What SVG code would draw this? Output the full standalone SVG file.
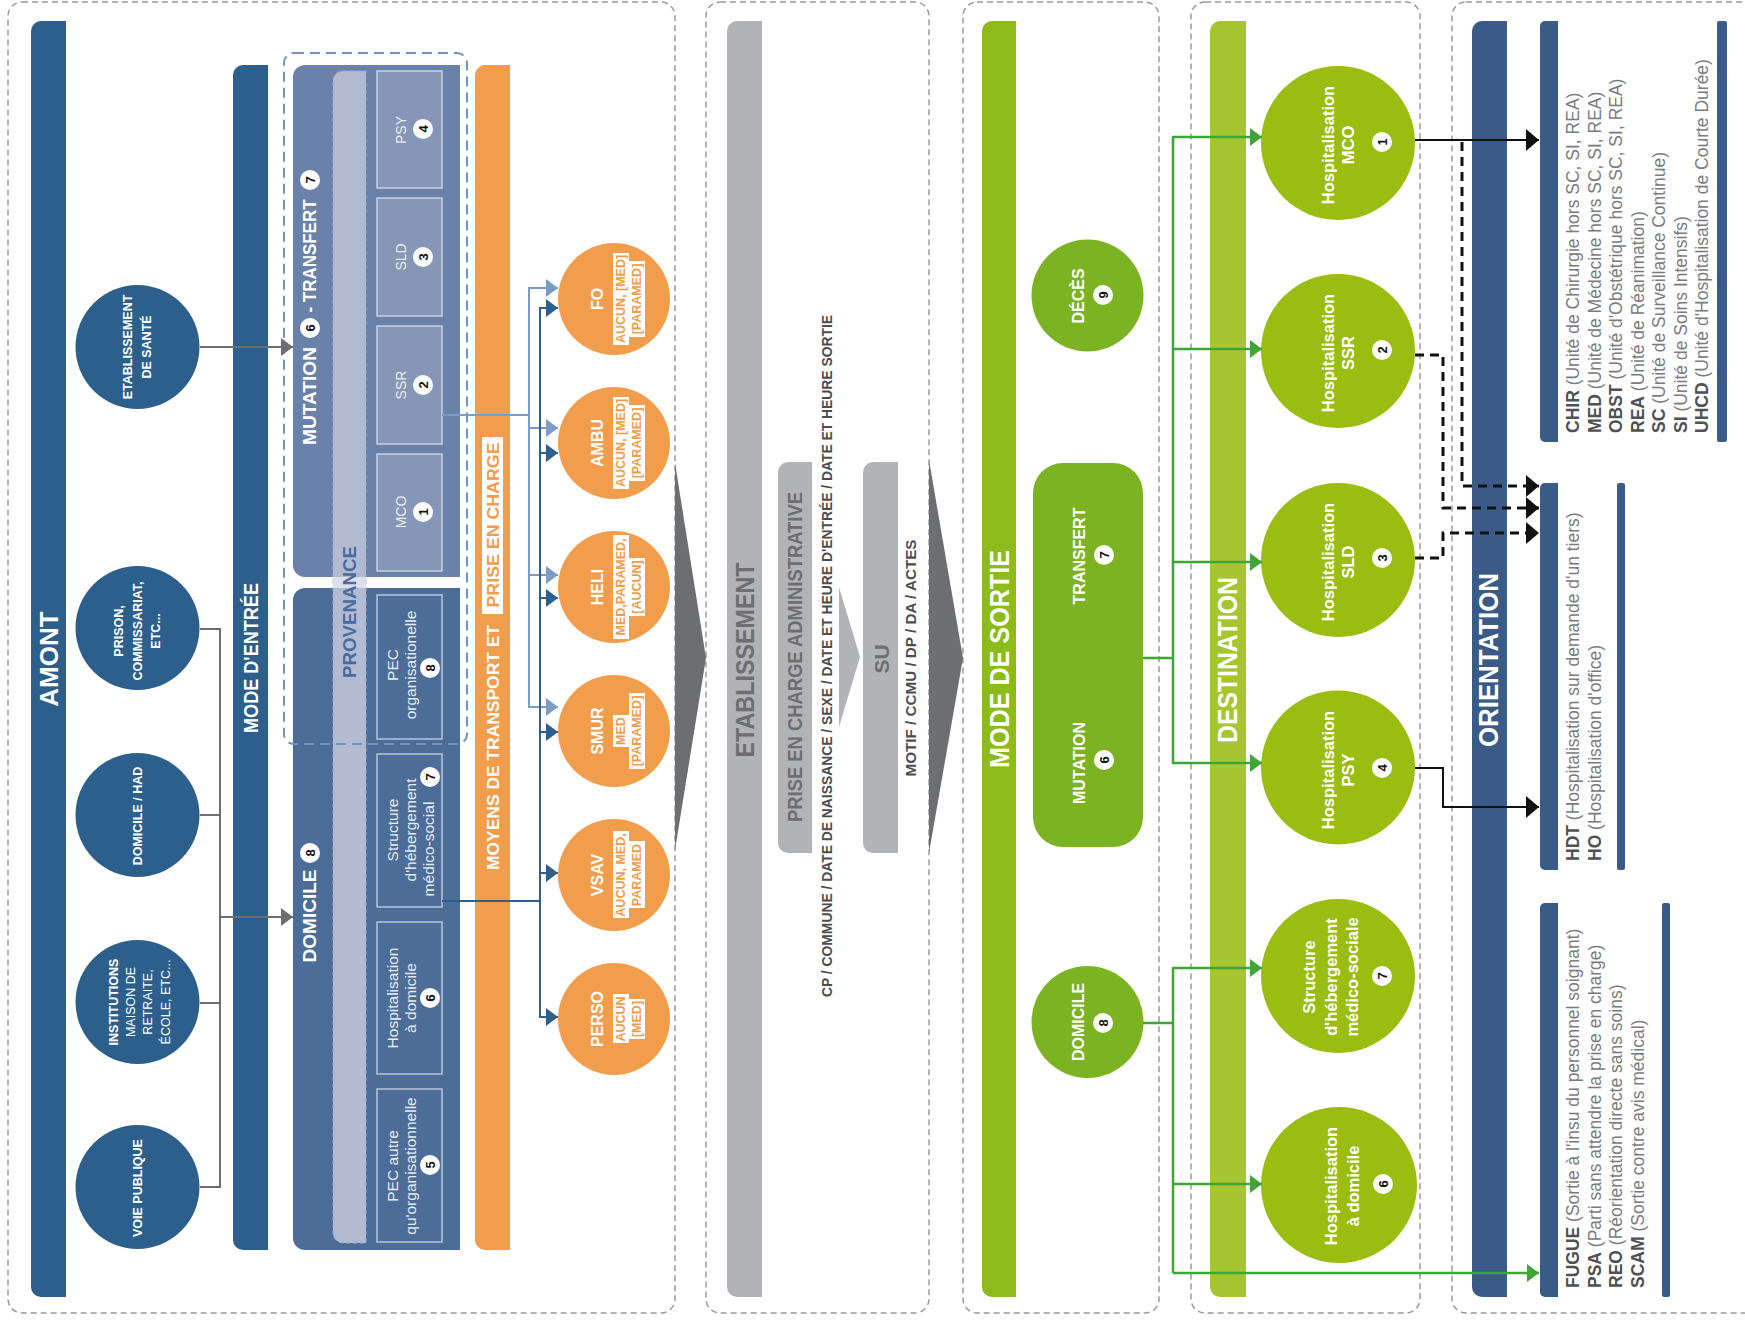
<svg xmlns="http://www.w3.org/2000/svg" width="1745" height="1322" viewBox="0 0 1745 1322">
<defs>
<style>
text{font-family:'Liberation Sans',Arial,sans-serif}
tspan{dominant-baseline:inherit}
.c{text-anchor:middle;dominant-baseline:central}
.s{text-anchor:start;dominant-baseline:central}
.b{font-weight:bold}
.w{fill:#fff}
.panel{fill:none;stroke:#9a9a9a;stroke-width:1.5;stroke-dasharray:6 4}
.bdg{fill:#fff}
.num{font-weight:bold;font-size:13px;fill:#111;text-anchor:middle;dominant-baseline:central}
.amc{fill:#2C5F8C}
.amt{font-size:12.5px;fill:#fff}
.sbm{fill:#8696B6;stroke:#C9D0E0;stroke-width:1.5}
.sbd{fill:#4B6D98;stroke:#B9C4D8;stroke-width:1.5}
.sbt{font-size:14px;fill:#E9ECF3}
.sdt{font-size:15.5px;fill:#E9ECF3}
.orc{fill:#F29D4C}
.ort{font-size:16px;font-weight:bold;fill:#fff}
.hl{fill:#fff}
.hlt{font-size:12.5px;font-weight:bold;fill:#F29D4C}
.gt{fill:#6D6E71}
.gd{fill:#4D4D4F}
.grn{fill:#7CB322}
.dst{fill:#9BBD11}
.dtt{font-size:16.5px;font-weight:bold;fill:#fff}
.lgb{font-weight:bold;fill:#505153}
.lgr{fill:#7A7B7E}
.lg{font-size:17.5px}
.cg{fill:none;stroke:#6D6E71;stroke-width:2}
.cbl{fill:none;stroke:#7A9CC6;stroke-width:2}
.cbd{fill:none;stroke:#2C5F8C;stroke-width:2}
.cgr{fill:none;stroke:#3FA535;stroke-width:2.5}
.ck{fill:none;stroke:#111;stroke-width:2}
.ckd{fill:none;stroke:#111;stroke-width:3;stroke-dasharray:9 6}
</style>
<marker id="ag" markerUnits="userSpaceOnUse" markerWidth="12" markerHeight="18" refX="12" refY="9" orient="auto"><path d="M0,0 L12,9 L0,18 z" fill="#6D6E71"/></marker>
<marker id="abl" markerUnits="userSpaceOnUse" markerWidth="12" markerHeight="18" refX="12" refY="9" orient="auto"><path d="M0,0 L12,9 L0,18 z" fill="#7A9CC6"/></marker>
<marker id="abd" markerUnits="userSpaceOnUse" markerWidth="12" markerHeight="18" refX="12" refY="9" orient="auto"><path d="M0,0 L12,9 L0,18 z" fill="#2C5F8C"/></marker>
<marker id="agr" markerUnits="userSpaceOnUse" markerWidth="12" markerHeight="18" refX="12" refY="9" orient="auto"><path d="M0,0 L12,9 L0,18 z" fill="#3FA535"/></marker>
<marker id="ak" markerUnits="userSpaceOnUse" markerWidth="13" markerHeight="22" refX="13" refY="11" orient="auto"><path d="M0,0 L13,11 L0,22 z" fill="#111"/></marker>
</defs>
<rect width="1745" height="1322" fill="#fff"/>

<g id="panels">
<rect class="panel" x="8" y="2" width="667" height="1311" rx="14"/>
<rect class="panel" x="706" y="2" width="223" height="1311" rx="14"/>
<rect class="panel" x="963" y="2" width="196" height="1311" rx="14"/>
<rect class="panel" x="1191" y="2" width="229" height="1311" rx="14"/>
<rect class="panel" x="1452" y="2" width="320" height="1311" rx="14"/>
</g>

<g id="amont">
<path d="M41,21 H66 V1297 H41 A10,10 0 0 1 31,1287 V31 A10,10 0 0 1 41,21 Z" fill="#2C5F8C"/>
<text class="c b w" font-size="26" transform="translate(49,659) rotate(-90)">AMONT</text>
</g>
<g id="mode-entree">
<path d="M243,65 H268 V1250 H243 A10,10 0 0 1 233,1240 V75 A10,10 0 0 1 243,65 Z" fill="#2C5F8C"/>
<text class="c b w" font-size="20" textLength="150" lengthAdjust="spacingAndGlyphs" transform="translate(251,658) rotate(-90)">MODE D'ENTRÉE</text>
</g>

<g id="n-etab"><circle cx="137.5" cy="347" r="62" class="amc"/>
<text class="c amt b" transform="translate(137.5,347) rotate(-90)"><tspan x="0" y="-9.5">ETABLISSEMENT</tspan><tspan x="0" y="9.5">DE SANTÉ</tspan></text></g>
<g id="n-prison"><circle cx="137.5" cy="628" r="62" class="amc"/>
<text class="c amt b" font-size="13.5" transform="translate(137.5,631) rotate(-90)"><tspan x="0" y="-19">PRISON,</tspan><tspan x="0" y="0">COMMISSARIAT,</tspan><tspan x="0" y="18.5">ETC...</tspan></text></g>
<g id="n-domhad"><circle cx="137.5" cy="815" r="62" class="amc"/>
<text class="c amt b" font-size="13.5" transform="translate(138,816) rotate(-90)">DOMICILE / HAD</text></g>
<g id="n-instit"><circle cx="137.5" cy="1002" r="62" class="amc"/>
<text class="c amt" font-size="13" transform="translate(139.5,1002) rotate(-90)"><tspan x="0" y="-26" font-weight="bold">INSTITUTIONS</tspan><tspan x="0" y="-8.5">MAISON DE</tspan><tspan x="0" y="8.5">RETRAITE,</tspan><tspan x="0" y="26">ÉCOLE, ETC...</tspan></text></g>
<g id="n-voie"><circle cx="137.5" cy="1187" r="62" class="amc"/>
<text class="c amt b" transform="translate(137.5,1188) rotate(-90)">VOIE PUBLIQUE</text></g>

<g id="mutation">
<path d="M305,65 H460 V577 H305 A12,12 0 0 1 293,565 V77 A12,12 0 0 1 305,65 Z" fill="#6A81A9"/>
</g>
<g id="domicile">
<path d="M305,588 H460 V1250 H305 A12,12 0 0 1 293,1238 V600 A12,12 0 0 1 305,588 Z" fill="#4B6D98"/>
</g>
<g id="provenance">
<path d="M343,71 H366 V1243 H343 A10,10 0 0 1 333,1233 V81 A10,10 0 0 1 343,71 Z" fill="#B3BBD3" stroke="#9FAAC6" stroke-width="1" stroke-dasharray="4 3"/>
<rect x="333" y="577" width="33" height="11" fill="#DCE0EA"/>
<text class="c b" font-size="18" fill="#4A6B9C" textLength="132" lengthAdjust="spacingAndGlyphs" transform="translate(350,612) rotate(-90)">PROVENANCE</text>
</g>
<g id="mutation-label">
<text class="c b w" font-size="18" textLength="98" lengthAdjust="spacingAndGlyphs" transform="translate(310,396) rotate(-90)">MUTATION</text>
<g transform="translate(310,328)"><circle r="10" class="bdg"/><text class="num" transform="rotate(-90)">6</text></g>
<text class="c b w" font-size="18" textLength="113" lengthAdjust="spacingAndGlyphs" transform="translate(310,256) rotate(-90)">- TRANSFERT</text>
<g transform="translate(310,180)"><circle r="10" class="bdg"/><text class="num" transform="rotate(-90)">7</text></g>
</g>
<g id="domicile-label">
<text class="c b w" font-size="18" textLength="93" lengthAdjust="spacingAndGlyphs" transform="translate(310,916) rotate(-90)">DOMICILE</text>
<g transform="translate(310,853)"><circle r="10" class="bdg"/><text class="num" transform="rotate(-90)">8</text></g>
</g>

<g id="n-psy-src"><rect x="377" y="71" width="65" height="117" class="sbm"/>
<text class="c sbt" transform="translate(401,130) rotate(-90)">PSY</text>
<g transform="translate(423,129)"><circle r="10" class="bdg"/><text class="num" transform="rotate(-90)">4</text></g></g>
<g id="n-sld-src"><rect x="377" y="198" width="65" height="118" class="sbm"/>
<text class="c sbt" transform="translate(401,257) rotate(-90)">SLD</text>
<g transform="translate(423,257)"><circle r="10" class="bdg"/><text class="num" transform="rotate(-90)">3</text></g></g>
<g id="n-ssr-src"><rect x="377" y="326" width="65" height="118" class="sbm"/>
<text class="c sbt" transform="translate(401,385) rotate(-90)">SSR</text>
<g transform="translate(423,385)"><circle r="10" class="bdg"/><text class="num" transform="rotate(-90)">2</text></g></g>
<g id="n-mco-src"><rect x="377" y="454" width="65" height="117" class="sbm"/>
<text class="c sbt" transform="translate(401,512) rotate(-90)">MCO</text>
<g transform="translate(423,512)"><circle r="10" class="bdg"/><text class="num" transform="rotate(-90)">1</text></g></g>

<g id="n-pecorg"><rect x="377" y="595" width="65" height="144" class="sbd"/>
<text class="c sdt" transform="translate(392,665) rotate(-90)"><tspan x="0" y="0">PEC</tspan><tspan x="0" y="18">organisationelle</tspan></text>
<g transform="translate(430,668)"><circle r="10" class="bdg"/><text class="num" transform="rotate(-90)">8</text></g></g>
<g id="n-struct-src"><rect x="377" y="754" width="65" height="153" class="sbd"/>
<text class="c sdt" transform="translate(392,830) rotate(-90)"><tspan x="0" y="0">Structure</tspan><tspan x="0" y="18">d'hébergement</tspan></text>
<text class="c sdt" transform="translate(428,849) rotate(-90)">médico-social</text>
<g transform="translate(430,777)"><circle r="10" class="bdg"/><text class="num" transform="rotate(-90)">7</text></g></g>
<g id="n-had-src"><rect x="377" y="922" width="65" height="152" class="sbd"/>
<text class="c sdt" transform="translate(392,998) rotate(-90)"><tspan x="0" y="0">Hospitalisation</tspan><tspan x="0" y="18">à domicile</tspan></text>
<g transform="translate(430,998)"><circle r="10" class="bdg"/><text class="num" transform="rotate(-90)">6</text></g></g>
<g id="n-pecautre"><rect x="377" y="1089" width="65" height="153" class="sbd"/>
<text class="c sdt" transform="translate(392,1166) rotate(-90)"><tspan x="0" y="0">PEC autre</tspan><tspan x="0" y="18">qu'organisationnelle</tspan></text>
<g transform="translate(430,1165)"><circle r="10" class="bdg"/><text class="num" transform="rotate(-90)">5</text></g></g>

<rect id="mutation-outline" x="284" y="53" width="183" height="691" rx="10" fill="none" stroke="#6F93C2" stroke-width="2" stroke-dasharray="10 6"/>

<g id="moyens">
<path d="M485,65 H510 V1250 H485 A10,10 0 0 1 475,1240 V75 A10,10 0 0 1 485,65 Z" fill="#F29D4C"/>
<text class="c b w" font-size="17" textLength="245" lengthAdjust="spacingAndGlyphs" transform="translate(493,747.5) rotate(-90)">MOYENS DE TRANSPORT ET</text>
<rect x="482" y="437" width="21" height="177" fill="#fff"/>
<text class="c b" font-size="17" fill="#F29D4C" textLength="165" lengthAdjust="spacingAndGlyphs" transform="translate(493,525) rotate(-90)">PRISE EN CHARGE</text>
</g>

<g id="n-fo"><circle cx="614" cy="299" r="56" class="orc"/>
<text class="c ort" transform="translate(597,299) rotate(-90)">FO</text>
<rect x="613" y="253" width="16" height="92" class="hl"/>
<text class="c hlt" transform="translate(621,299) rotate(-90)">AUCUN, [MED]</text>
<rect x="629" y="261" width="16" height="76" class="hl"/>
<text class="c hlt" transform="translate(637,299) rotate(-90)">[PARAMED]</text></g>
<g id="n-ambu"><circle cx="614" cy="443" r="56" class="orc"/>
<text class="c ort" transform="translate(597,443) rotate(-90)">AMBU</text>
<rect x="613" y="397" width="16" height="92" class="hl"/>
<text class="c hlt" transform="translate(621,443) rotate(-90)">AUCUN, [MED]</text>
<rect x="629" y="405" width="16" height="76" class="hl"/>
<text class="c hlt" transform="translate(637,443) rotate(-90)">[PARAMED]</text></g>
<g id="n-heli"><circle cx="614" cy="587" r="56" class="orc"/>
<text class="c ort" transform="translate(597,587) rotate(-90)">HELI</text>
<rect x="613" y="535" width="16" height="104" class="hl"/>
<text class="c hlt" transform="translate(621,587) rotate(-90)">MED,PARAMED,</text>
<rect x="629" y="558" width="16" height="58" class="hl"/>
<text class="c hlt" transform="translate(637,587) rotate(-90)">[AUCUN]</text></g>
<g id="n-smur"><circle cx="614" cy="731" r="56" class="orc"/>
<text class="c ort" transform="translate(597,731) rotate(-90)">SMUR</text>
<rect x="613" y="715" width="16" height="32" class="hl"/>
<text class="c hlt" transform="translate(621,731) rotate(-90)">MED</text>
<rect x="629" y="693" width="16" height="76" class="hl"/>
<text class="c hlt" transform="translate(637,731) rotate(-90)">[PARAMED]</text></g>
<g id="n-vsav"><circle cx="614" cy="875" r="56" class="orc"/>
<text class="c ort" transform="translate(597,875) rotate(-90)">VSAV</text>
<rect x="613" y="831" width="16" height="87" class="hl"/>
<text class="c hlt" transform="translate(621,875) rotate(-90)">AUCUN, MED,</text>
<rect x="629" y="841" width="16" height="67" class="hl"/>
<text class="c hlt" transform="translate(637,875) rotate(-90)">PARAMED</text></g>
<g id="n-perso"><circle cx="614" cy="1019" r="56" class="orc"/>
<text class="c ort" transform="translate(597,1019) rotate(-90)">PERSO</text>
<rect x="613" y="994" width="16" height="49" class="hl"/>
<text class="c hlt" transform="translate(621,1019) rotate(-90)">AUCUN</text>
<rect x="629" y="999" width="16" height="40" class="hl"/>
<text class="c hlt" transform="translate(637,1019) rotate(-90)">[MED]</text></g>

<g id="chevrons">
<polygon points="675,463 706,658 675,850" fill="#6D6E71"/>
<polygon points="839,587 860,657 839,727" fill="#B1B3B6"/>
<polygon points="929,460 963,658 929,853" fill="#6D6E71"/>
</g>

<g id="etablissement">
<path d="M737,21 H762 V1297 H737 A10,10 0 0 1 727,1287 V31 A10,10 0 0 1 737,21 Z" fill="#B1B3B6"/>
<text class="c b gt" font-size="26" textLength="195" lengthAdjust="spacingAndGlyphs" transform="translate(745,660) rotate(-90)">ETABLISSEMENT</text>
</g>
<g id="pec-admin">
<path d="M788,462 H812 V853 H788 A10,10 0 0 1 778,843 V472 A10,10 0 0 1 788,462 Z" fill="#B1B3B6"/>
<text class="c b gt" font-size="20" textLength="330" lengthAdjust="spacingAndGlyphs" transform="translate(795,657) rotate(-90)">PRISE EN CHARGE ADMINISTRATIVE</text>
<text class="c b gd" font-size="14" textLength="682" lengthAdjust="spacingAndGlyphs" transform="translate(827,656) rotate(-90)">CP / COMMUNE / DATE DE NAISSANCE / SEXE / DATE ET HEURE D'ENTRÉE / DATE ET HEURE SORTIE</text>
</g>
<g id="su">
<path d="M873,462 H898 V853 H873 A10,10 0 0 1 863,843 V472 A10,10 0 0 1 873,462 Z" fill="#B1B3B6"/>
<text class="c b gt" font-size="21" transform="translate(881,659) rotate(-90)">SU</text>
<text class="c b gd" font-size="14" textLength="237" lengthAdjust="spacingAndGlyphs" transform="translate(911,658) rotate(-90)">MOTIF / CCMU / DP / DA / ACTES</text>
</g>

<g id="mode-sortie">
<path d="M992,21 H1016 V1297 H992 A10,10 0 0 1 982,1287 V31 A10,10 0 0 1 992,21 Z" fill="#8CBB1B"/>
<text class="c b w" font-size="28" textLength="218" lengthAdjust="spacingAndGlyphs" transform="translate(999,659) rotate(-90)">MODE DE SORTIE</text>
</g>
<g id="n-deces"><circle cx="1087.5" cy="295.5" r="56" class="grn"/>
<text class="c b w" font-size="16" transform="translate(1078,296) rotate(-90)">DÉCÈS</text>
<g transform="translate(1103,295)"><circle r="10" class="bdg"/><text class="num" transform="rotate(-90)">9</text></g></g>
<g id="n-mut-transf"><rect x="1033" y="463" width="110" height="384" rx="30" class="grn"/>
<text class="c b w" font-size="16" transform="translate(1079,556) rotate(-90)">TRANSFERT</text>
<g transform="translate(1104,555)"><circle r="10" class="bdg"/><text class="num" transform="rotate(-90)">7</text></g>
<text class="c b w" font-size="16" transform="translate(1079,763) rotate(-90)">MUTATION</text>
<g transform="translate(1104,760)"><circle r="10" class="bdg"/><text class="num" transform="rotate(-90)">6</text></g></g>
<g id="n-domicile-out"><circle cx="1087.5" cy="1022" r="56" class="grn"/>
<text class="c b w" font-size="16" transform="translate(1078,1022) rotate(-90)">DOMICILE</text>
<g transform="translate(1103,1023)"><circle r="10" class="bdg"/><text class="num" transform="rotate(-90)">8</text></g></g>

<g id="destination">
<path d="M1220,21 H1246 V1297 H1220 A10,10 0 0 1 1210,1287 V31 A10,10 0 0 1 1220,21 Z" fill="#A6C631"/>
<text class="c b w" font-size="27" textLength="166" lengthAdjust="spacingAndGlyphs" transform="translate(1228,660) rotate(-90)">DESTINATION</text>
</g>
<g id="n-hmco"><circle cx="1338" cy="143" r="77" class="dst"/>
<text class="c dtt" transform="translate(1328,145) rotate(-90)"><tspan x="0" y="0">Hospitalisation</tspan><tspan x="0" y="20">MCO</tspan></text>
<g transform="translate(1382,142)"><circle r="10" class="bdg"/><text class="num" transform="rotate(-90)">1</text></g></g>
<g id="n-hssr"><circle cx="1338" cy="351" r="77" class="dst"/>
<text class="c dtt" transform="translate(1328,353) rotate(-90)"><tspan x="0" y="0">Hospitalisation</tspan><tspan x="0" y="20">SSR</tspan></text>
<g transform="translate(1382,350)"><circle r="10" class="bdg"/><text class="num" transform="rotate(-90)">2</text></g></g>
<g id="n-hsld"><circle cx="1338" cy="560" r="77" class="dst"/>
<text class="c dtt" transform="translate(1328,562) rotate(-90)"><tspan x="0" y="0">Hospitalisation</tspan><tspan x="0" y="20">SLD</tspan></text>
<g transform="translate(1382,558)"><circle r="10" class="bdg"/><text class="num" transform="rotate(-90)">3</text></g></g>
<g id="n-hpsy"><circle cx="1338" cy="767.5" r="77" class="dst"/>
<text class="c dtt" transform="translate(1328,770) rotate(-90)"><tspan x="0" y="0">Hospitalisation</tspan><tspan x="0" y="20">PSY</tspan></text>
<g transform="translate(1382,768)"><circle r="10" class="bdg"/><text class="num" transform="rotate(-90)">4</text></g></g>
<g id="n-hstruct"><circle cx="1338" cy="976" r="77" class="dst"/>
<text class="c dtt" transform="translate(1309,977) rotate(-90)"><tspan x="0" y="0">Structure</tspan><tspan x="0" y="22">d'hébergement</tspan><tspan x="0" y="43">médico-sociale</tspan></text>
<g transform="translate(1382,976)"><circle r="10" class="bdg"/><text class="num" transform="rotate(-90)">7</text></g></g>
<g id="n-hdom"><circle cx="1339" cy="1185" r="78" class="dst"/>
<text class="c dtt" transform="translate(1331,1186) rotate(-90)"><tspan x="0" y="0">Hospitalisation</tspan><tspan x="0" y="22">à domicile</tspan></text>
<g transform="translate(1383,1184)"><circle r="10" class="bdg"/><text class="num" transform="rotate(-90)">6</text></g></g>

<g id="orientation">
<path d="M1482,21 H1507 V1297 H1482 A10,10 0 0 1 1472,1287 V31 A10,10 0 0 1 1482,21 Z" fill="#3A5A88"/>
<text class="c b w" font-size="27" textLength="174" lengthAdjust="spacingAndGlyphs" transform="translate(1489,660) rotate(-90)">ORIENTATION</text>
</g>

<g id="legend-units">
<path d="M1545,21 H1558 V442 H1545 A5,5 0 0 1 1540,437 V26 A5,5 0 0 1 1545,21 Z" fill="#3A5A88"/>
<rect x="1717" y="21" width="10" height="421" rx="2" fill="#3A5A88"/>
<text class="s lg" transform="translate(1573,433) rotate(-90)"><tspan class="lgb">CHIR</tspan><tspan class="lgr"> (Unité de Chirurgie hors SC, SI, REA)</tspan></text>
<text class="s lg" transform="translate(1594.5,433) rotate(-90)"><tspan class="lgb">MED</tspan><tspan class="lgr"> (Unité de Médecine hors SC, SI, REA)</tspan></text>
<text class="s lg" transform="translate(1616,433) rotate(-90)"><tspan class="lgb">OBST</tspan><tspan class="lgr"> (Unité d'Obstétrique hors SC, SI, REA)</tspan></text>
<text class="s lg" transform="translate(1637.5,433) rotate(-90)"><tspan class="lgb">REA</tspan><tspan class="lgr"> (Unité de Réanimation)</tspan></text>
<text class="s lg" transform="translate(1659,433) rotate(-90)"><tspan class="lgb">SC</tspan><tspan class="lgr"> (Unité de Surveillance Continue)</tspan></text>
<text class="s lg" transform="translate(1680.5,433) rotate(-90)"><tspan class="lgb">SI</tspan><tspan class="lgr"> (Unité de Soins Intensifs)</tspan></text>
<text class="s lg" transform="translate(1702,433) rotate(-90)"><tspan class="lgb">UHCD</tspan><tspan class="lgr"> (Unité d'Hospitalisation de Courte Durée)</tspan></text>
</g>
<g id="legend-psy">
<path d="M1545,483 H1558 V870 H1545 A5,5 0 0 1 1540,865 V488 A5,5 0 0 1 1545,483 Z" fill="#3A5A88"/>
<rect x="1617" y="483" width="8" height="387" rx="2" fill="#3A5A88"/>
<text class="s lg" transform="translate(1573,861) rotate(-90)"><tspan class="lgb">HDT</tspan><tspan class="lgr"> (Hospitalisation sur demande d'un tiers)</tspan></text>
<text class="s lg" transform="translate(1594.5,861) rotate(-90)"><tspan class="lgb">HO</tspan><tspan class="lgr"> (Hospitalisation d'office)</tspan></text>
</g>
<g id="legend-sortie">
<path d="M1545,903 H1558 V1297 H1545 A5,5 0 0 1 1540,1292 V908 A5,5 0 0 1 1545,903 Z" fill="#3A5A88"/>
<rect x="1662" y="903" width="8" height="394" rx="2" fill="#3A5A88"/>
<text class="s lg" transform="translate(1573,1288) rotate(-90)"><tspan class="lgb">FUGUE</tspan><tspan class="lgr"> (Sortie à l'insu du personnel soignant)</tspan></text>
<text class="s lg" transform="translate(1594.5,1288) rotate(-90)"><tspan class="lgb">PSA</tspan><tspan class="lgr"> (Parti sans attendre la prise en charge)</tspan></text>
<text class="s lg" transform="translate(1616,1288) rotate(-90)"><tspan class="lgb">REO</tspan><tspan class="lgr"> (Réorientation directe sans soins)</tspan></text>
<text class="s lg" transform="translate(1637.5,1288) rotate(-90)"><tspan class="lgb">SCAM</tspan><tspan class="lgr"> (Sortie contre avis médical)</tspan></text>
</g>

<g id="connectors">
<path class="cg" d="M200,347 H293" marker-end="url(#ag)"/>
<path class="cg" d="M200,629 H220 M200,815 H220 M200,1003 H220 M200,1187 H220 M220,628 V1188"/>
<path class="cg" d="M220,917 H293" marker-end="url(#ag)"/>

<path class="cbl" d="M442,415 H529 M529,287 V708"/>
<path class="cbl" d="M529,288 H558" marker-end="url(#abl)"/>
<path class="cbl" d="M529,428 H558" marker-end="url(#abl)"/>
<path class="cbl" d="M529,575 H558" marker-end="url(#abl)"/>
<path class="cbl" d="M529,707 H558" marker-end="url(#abl)"/>

<path class="cbd" d="M442,901 H540 M540,307 V1018"/>
<path class="cbd" d="M540,308 H558" marker-end="url(#abd)"/>
<path class="cbd" d="M540,453 H558" marker-end="url(#abd)"/>
<path class="cbd" d="M540,598 H558" marker-end="url(#abd)"/>
<path class="cbd" d="M540,732 H558" marker-end="url(#abd)"/>
<path class="cbd" d="M540,873 H558" marker-end="url(#abd)"/>
<path class="cbd" d="M540,1017 H558" marker-end="url(#abd)"/>

<path class="cgr" d="M1143,658 H1173 M1173,136 V764"/>
<path class="cgr" d="M1173,137 H1262" marker-end="url(#agr)"/>
<path class="cgr" d="M1173,349 H1262" marker-end="url(#agr)"/>
<path class="cgr" d="M1173,562 H1262" marker-end="url(#agr)"/>
<path class="cgr" d="M1173,763 H1262" marker-end="url(#agr)"/>
<path class="cgr" d="M1143,1023 H1173 M1173,967 V1273"/>
<path class="cgr" d="M1173,968 H1262" marker-end="url(#agr)"/>
<path class="cgr" d="M1173,1184 H1262" marker-end="url(#agr)"/>
<path class="cgr" d="M1173,1273 H1539" marker-end="url(#agr)"/>

<path class="ck" d="M1415,140 H1539" marker-end="url(#ak)"/>
<path class="ckd" d="M1462,142 V486 H1539" marker-end="url(#ak)"/>
<path class="ckd" d="M1415,355 H1443 V508 H1539" marker-end="url(#ak)"/>
<path class="ckd" d="M1415,558 H1443 V533 H1539" marker-end="url(#ak)"/>
<path class="ck" d="M1415,768 H1443 V807 H1539" marker-end="url(#ak)"/>
</g>
</svg>
